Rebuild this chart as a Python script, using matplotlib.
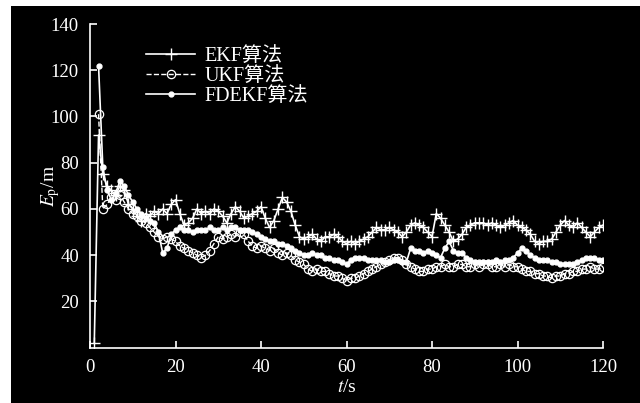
import numpy as np
import matplotlib.pyplot as plt
from matplotlib.patches import Rectangle

plt.rcParams['mathtext.fontset'] = 'stix'
plt.rcParams['font.family'] = ['Liberation Serif', 'Noto Sans CJK SC']

t = np.arange(1, 121)

ekf = [2, 92, 75, 70, 68, 66, 70, 68, 62, 60,
       57, 55, 58, 57, 59, 58, 60, 58, 62, 64,
       58, 53, 54, 56, 60, 58, 59, 58, 60, 59,
       57, 54, 58, 61, 59, 56, 57, 58, 59, 61,
       56, 52, 55, 60, 65, 63, 59, 53, 48, 47,
       48, 49, 47, 46, 48, 48, 49, 48, 46, 45,
       46, 45, 46, 47, 48, 50, 52, 51, 51, 52,
       51, 50, 48, 50, 53, 54, 53, 52, 50, 48,
       58, 56, 53, 50, 46, 47, 49, 52, 53, 54,
       54, 54, 53, 54, 53, 52, 53, 54, 55, 53,
       52, 51, 49, 46, 45, 46, 46, 47, 50, 53,
       55, 53, 52, 54, 52, 50, 48, 50, 52, 53]

ukf = [np.nan, 101, 60, 62, 65, 64, 66, 63, 60, 58,
       57, 55, 54, 52, 50, 48, 47, 48, 47, 46,
       44, 43, 42, 41, 40, 39, 40, 42, 45, 48,
       47, 48, 49, 48, 50, 49, 46, 44, 43, 44,
       43, 42, 43, 41, 40, 41, 40, 38, 37, 36,
       34, 33, 34, 33, 33, 32, 31, 31, 30, 29,
       30, 30, 31, 32, 33, 34, 35, 36, 37, 38,
       39, 39, 38, 36, 35, 34, 33, 33, 34, 34,
       35, 35, 36, 35, 35, 36, 36, 35, 35, 36,
       35, 36, 36, 35, 35, 36, 35, 36, 35, 35,
       34, 33, 33, 32, 32, 31, 31, 30, 31, 31,
       32, 32, 33, 33, 34, 34, 35, 34, 34, 35]

fdekf = [np.nan, 122, 78, 68, 64, 67, 72, 70, 66, 63,
         60, 58, 56, 55, 54, 50, 41, 43, 49, 51,
         52, 51, 51, 50, 51, 51, 51, 52, 51, 51,
         52, 51, 52, 52, 51, 51, 51, 50, 49, 48,
         47, 46, 46, 45, 45, 44, 43, 42, 41, 40,
         40, 41, 40, 40, 39, 39, 38, 38, 37, 36,
         38, 39, 39, 39, 38, 38, 38, 38, 37, 37,
         38, 38, 37, 37, 43, 42, 42, 41, 42, 41,
         40, 39, 43, 46, 42, 41, 41, 39, 38, 37,
         37, 37, 37, 37, 38, 37, 38, 38, 39, 41,
         43, 42, 40, 39, 38, 38, 38, 37, 37, 36,
         36, 36, 36, 37, 38, 39, 39, 39, 38, 38]

fig = plt.figure(figsize=(6.4, 4.03), dpi=100, facecolor='white')
# black panel (white strip on the left and top of the original)
fig.patches.append(Rectangle((11 / 640, 0), 1, 397 / 403, transform=fig.transFigure,
                             facecolor='black', edgecolor='none', zorder=-10))

ax = fig.add_axes([90 / 640, 55.3 / 403, 513 / 640, 323.7 / 403])
ax.set_facecolor('black')
ax.set_zorder(1)

ax.plot(t, ekf, color='white', lw=1.2, marker='+', ms=8, mew=1.0, label='EKF算法')
ax.plot(t, ukf, color='white', lw=1.0, ls='--', marker='o', ms=6, mfc='none', mew=0.9,
        label='UKF算法')
ax.plot(t, fdekf, color='white', lw=1.2, marker='o', ms=3.5, mec='white', label='FDEKF算法')

ax.set_xlim(0, 120)
ax.set_ylim(0, 140)
ax.set_xticks(range(0, 121, 20))
ax.set_yticks(range(20, 141, 20))
for s in ['top', 'right']:
    ax.spines[s].set_visible(False)
for s in ['left', 'bottom']:
    ax.spines[s].set_color('white')
    ax.spines[s].set_linewidth(1.2)
ax.tick_params(direction='in', colors='white', length=5, width=1.2, labelsize=13.5, pad=8)

ax.set_xlabel('$t$/s', color='white', fontsize=14, labelpad=2)
ax.set_ylabel(r'$E_{\mathrm{p}}$/m', color='white', fontsize=14, labelpad=-8)

leg = ax.legend(loc='upper left', bbox_to_anchor=(0.11, 0.93), frameon=False,
                fontsize=14.5, handlelength=2.4, handletextpad=0.5, labelspacing=0.05,
                borderpad=0, borderaxespad=0)
for txt in leg.get_texts():
    txt.set_color('white')

fig.savefig('out.png', dpi=100, facecolor=fig.get_facecolor())
